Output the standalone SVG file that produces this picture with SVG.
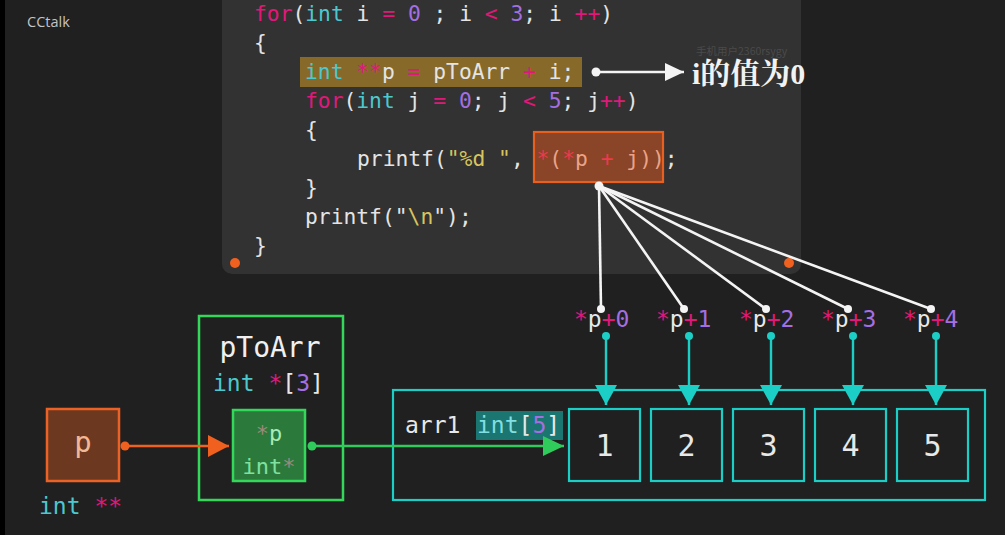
<svg xmlns="http://www.w3.org/2000/svg" width="1005" height="535" viewBox="0 0 1005 535">
<style>
.code{font-family:"DejaVu Sans Mono","Liberation Mono",monospace;font-size:21.3px;fill:#e4e4e4}
.mono{font-family:"DejaVu Sans Mono","Liberation Mono",monospace;font-size:23px;fill:#e8e8e8}
.k{fill:#e0187a}.t{fill:#4cc8cf}.n{fill:#a46fe2}.s{fill:#d8c45e}.w{fill:#e4e4e4}
.r{fill:#ec3a4e}.sal{fill:#eba387}
.cell{fill:none;stroke:#1ccfc6;stroke-width:2.2}
.num{font-size:30px}
.cy{stroke:#1ccfc6;stroke-width:2.4;fill:none}
.wl{stroke:#f4f4f4;stroke-width:2.6;fill:none}
</style>
<defs>
<marker id="aCy" markerUnits="userSpaceOnUse" markerWidth="22" markerHeight="22" refX="20" refY="11" orient="auto"><path d="M0,0 L20,11 L0,22 z" fill="#1ccfc6"/></marker>
<marker id="aW" markerUnits="userSpaceOnUse" markerWidth="20" markerHeight="18" refX="19" refY="9" orient="auto"><path d="M0,0 L19,9 L0,18 z" fill="#f4f4f4"/></marker>
<marker id="aG" markerUnits="userSpaceOnUse" markerWidth="22" markerHeight="20" refX="21" refY="10" orient="auto"><path d="M0,0 L21,10 L0,20 z" fill="#2fcc5c"/></marker>
<marker id="aO" markerUnits="userSpaceOnUse" markerWidth="22" markerHeight="22" refX="21" refY="11" orient="auto"><path d="M0,0 L21,11 L0,22 z" fill="#f0601e"/></marker>
</defs>
<rect x="0" y="0" width="1005" height="535" fill="#202020"/>
<rect x="0" y="0" width="5" height="535" fill="#000"/>
<text x="27" y="27" font-family="Open Sans, Liberation Sans, sans-serif" font-size="14.5" fill="#c4c4c4">CCtalk</text>

<g id="code-panel">
<rect x="222" y="-20" width="579" height="294" rx="10" fill="#323232"/>
<rect x="300" y="57" width="282" height="30" fill="#87692a"/>
<rect x="534" y="132" width="129" height="50" fill="#8a4427" stroke="#e8601f" stroke-width="2.2"/>
<text class="code" xml:space="preserve" x="254" y="21"><tspan class="k">for</tspan>(<tspan class="t">int</tspan> i <tspan class="k">=</tspan> <tspan class="n">0</tspan> ; i <tspan class="k">&lt;</tspan> <tspan class="n">3</tspan>; i <tspan class="k">++</tspan>)</text>
<text class="code" x="254" y="50">{</text>
<text class="code" xml:space="preserve" x="305" y="79"><tspan class="t">int</tspan> <tspan class="k">**</tspan>p <tspan class="k">=</tspan> pToArr <tspan class="k">+</tspan> i;</text>
<text class="code" xml:space="preserve" x="305" y="108"><tspan class="k">for</tspan>(<tspan class="t">int</tspan> j <tspan class="k">=</tspan> <tspan class="n">0</tspan>; j <tspan class="k">&lt;</tspan> <tspan class="n">5</tspan>; j<tspan class="k">++</tspan>)</text>
<text class="code" x="305" y="137">{</text>
<text class="code" xml:space="preserve" x="357" y="166">printf(<tspan class="s">"%d "</tspan>, <tspan class="r">*</tspan><tspan class="sal">(</tspan><tspan class="r">*</tspan><tspan class="sal">p </tspan><tspan class="r">+</tspan><tspan class="sal"> j))</tspan>;</text>
<text class="code" x="305" y="195">}</text>
<text class="code" xml:space="preserve" x="305" y="224">printf("<tspan class="s">\n</tspan>");</text>
<text class="code" x="254" y="253">}</text>
<circle cx="235" cy="263" r="5" fill="#f0601e"/>
<circle cx="789" cy="263" r="5" fill="#f0601e"/>
<text x="696" y="55" font-family="Noto Sans CJK SC, sans-serif" font-size="10.5" fill="#4a4a4a">手机用户2360rsygy</text>
</g>

<g id="note">
<circle cx="596" cy="72" r="4.5" fill="#f4f4f4"/>
<line x1="596" y1="72" x2="684" y2="72" class="wl" marker-end="url(#aW)"/>
<text x="692" y="84" font-family="Liberation Serif, Noto Serif CJK SC, Noto Sans CJK SC, serif" font-weight="bold" font-size="30" fill="#f2f2f2">i的值为0</text>
</g>

<g id="p-node">
<rect x="47" y="409" width="72" height="72" fill="#6c3820" stroke="#ea6226" stroke-width="2.5"/>
<text x="83" y="452" text-anchor="middle" class="mono" style="font-size:29px;fill:#f2b896">p</text>
<text class="mono" x="39" y="514" xml:space="preserve"><tspan class="t">int</tspan> <tspan class="k">**</tspan></text>
</g>

<g id="pToArr-node">
<rect x="199" y="316" width="144" height="184" fill="none" stroke="#33d85a" stroke-width="2.5"/>
<text class="mono" x="270" y="357" text-anchor="middle" style="font-size:28px;fill:#f0f0f0">pToArr</text>
<text class="mono" x="213" y="391" xml:space="preserve"><tspan class="t">int</tspan> <tspan class="k">*</tspan>[<tspan class="n">3</tspan>]</text>
<rect x="233" y="410" width="72" height="71" fill="#2b7a3c" stroke="#33d85a" stroke-width="2.5"/>
<text class="mono" x="269" y="441" text-anchor="middle" style="font-size:22px"><tspan style="fill:#9a8a7c">*</tspan><tspan style="fill:#a6ecb8">p</tspan></text>
<text class="mono" x="269" y="474" text-anchor="middle" style="font-size:22px"><tspan style="fill:#7fe0a0">int</tspan><tspan style="fill:#9a8a7c">*</tspan></text>
</g>

<g id="arr1-node">
<rect x="393" y="390" width="592" height="110" class="cell"/>
<text class="mono" x="405" y="433">arr1</text>
<rect x="476" y="411" width="87" height="29" fill="#1b7570"/>
<text class="mono" x="477" y="433"><tspan style="fill:#7fdfe2">int</tspan>[<tspan class="n">5</tspan>]</text>
<g id="cell1"><rect x="569" y="409" width="71" height="72" class="cell"/><text class="mono num" x="604.5" y="456" text-anchor="middle">1</text></g>
<g id="cell2"><rect x="651" y="409" width="71" height="72" class="cell"/><text class="mono num" x="686.5" y="456" text-anchor="middle">2</text></g>
<g id="cell3"><rect x="733" y="409" width="71" height="72" class="cell"/><text class="mono num" x="768.5" y="456" text-anchor="middle">3</text></g>
<g id="cell4"><rect x="815" y="409" width="71" height="72" class="cell"/><text class="mono num" x="850.5" y="456" text-anchor="middle">4</text></g>
<g id="cell5"><rect x="897" y="409" width="71" height="72" class="cell"/><text class="mono num" x="932.5" y="456" text-anchor="middle">5</text></g>
</g>

<g id="labels">
<text class="mono" x="574" y="327"><tspan class="k">*</tspan>p<tspan class="k">+</tspan><tspan class="n">0</tspan></text>
<text class="mono" x="656" y="327"><tspan class="k">*</tspan>p<tspan class="k">+</tspan><tspan class="n">1</tspan></text>
<text class="mono" x="739" y="327"><tspan class="k">*</tspan>p<tspan class="k">+</tspan><tspan class="n">2</tspan></text>
<text class="mono" x="821" y="327"><tspan class="k">*</tspan>p<tspan class="k">+</tspan><tspan class="n">3</tspan></text>
<text class="mono" x="903" y="327"><tspan class="k">*</tspan>p<tspan class="k">+</tspan><tspan class="n">4</tspan></text>
</g>

<g id="connectors">
<line x1="125" y1="446" x2="229" y2="446" stroke="#f0601e" stroke-width="2.5" marker-end="url(#aO)"/>
<circle cx="125" cy="446" r="4.5" fill="#f0601e"/>
<line x1="312" y1="446" x2="564" y2="446" stroke="#2fcc5c" stroke-width="2.5" marker-end="url(#aG)"/>
<circle cx="312" cy="446" r="4.5" fill="#2fcc5c"/>
<g class="wl">
<line x1="599" y1="186" x2="601" y2="309"/>
<line x1="599" y1="186" x2="684" y2="309"/>
<line x1="599" y1="186" x2="766" y2="309"/>
<line x1="599" y1="186" x2="848" y2="309"/>
<line x1="599" y1="186" x2="931" y2="309"/>
</g>
<g fill="#f4f4f4">
<circle cx="599" cy="186" r="4.5"/>
<circle cx="601" cy="309" r="4"/>
<circle cx="684" cy="309" r="4"/>
<circle cx="766" cy="309" r="4"/>
<circle cx="848" cy="309" r="4"/>
<circle cx="931" cy="309" r="4"/>
</g>
<g class="cy">
<line x1="606" y1="336" x2="606" y2="405" marker-end="url(#aCy)"/>
<line x1="689" y1="336" x2="689" y2="405" marker-end="url(#aCy)"/>
<line x1="771" y1="336" x2="771" y2="405" marker-end="url(#aCy)"/>
<line x1="853" y1="336" x2="853" y2="405" marker-end="url(#aCy)"/>
<line x1="936" y1="336" x2="936" y2="405" marker-end="url(#aCy)"/>
</g>
<g fill="#1ccfc6">
<circle cx="606" cy="336" r="4"/>
<circle cx="689" cy="336" r="4"/>
<circle cx="771" cy="336" r="4"/>
<circle cx="853" cy="336" r="4"/>
<circle cx="936" cy="336" r="4"/>
</g>
</g>
</svg>
